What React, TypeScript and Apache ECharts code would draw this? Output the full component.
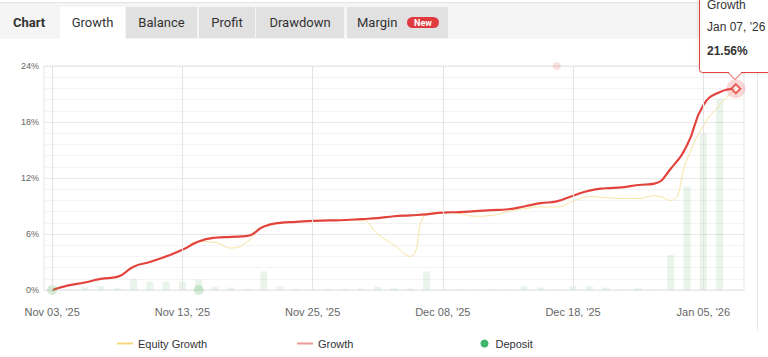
import React, { useEffect, useRef } from 'react';
import * as echarts from 'echarts';

const dates = [
  "Nov 03, '25", "Nov 04, '25", "Nov 05, '25", "Nov 06, '25", "Nov 07, '25", "Nov 10, '25", "Nov 11, '25", "Nov 12, '25",
  "Nov 13, '25", "Nov 14, '25", "Nov 17, '25", "Nov 18, '25", "Nov 19, '25", "Nov 20, '25", "Nov 21, '25", "Nov 24, '25",
  "Nov 25, '25", "Nov 26, '25", "Nov 28, '25", "Dec 01, '25", "Dec 02, '25", "Dec 03, '25", "Dec 04, '25", "Dec 05, '25",
  "Dec 08, '25", "Dec 09, '25", "Dec 10, '25", "Dec 11, '25", "Dec 12, '25", "Dec 15, '25", "Dec 16, '25", "Dec 17, '25",
  "Dec 18, '25", "Dec 19, '25", "Dec 22, '25", "Dec 23, '25", "Dec 24, '25", "Dec 29, '25", "Dec 30, '25", "Jan 02, '26",
  "Jan 05, '26", "Jan 06, '26", "Jan 07, '26",
];

const growth = [
  0, 0.5, 0.8, 1.2, 1.4, 2.5, 3.0, 3.6, 4.3, 5.2, 5.6, 5.7, 5.8, 6.8, 7.2, 7.3, 7.4, 7.45, 7.5, 7.6, 7.7, 7.9,
  8.0, 8.1, 8.3, 8.35, 8.45, 8.55, 8.65, 8.95, 9.3, 9.5, 10.1, 10.65, 10.9, 11.0, 11.25, 11.4, 13.0, 15.5, 19.8,
  21.2, 21.56,
];

const equityGrowth = [
  0, 0.5, 0.8, 1.2, 1.4, 2.5, 3.0, 3.6, 4.3, 5.2, 5.1, 4.5, 5.2, 6.8, 7.2, 7.3, 7.4, 7.45, 7.5, 7.5, 6.0, 4.8,
  3.6, 8.1, 8.3, 8.2, 7.9, 8.0, 8.4, 8.7, 8.9, 8.9, 9.5, 10.0, 9.9, 9.8, 9.8, 10.1, 9.6, 14.0, 17.6, 19.8, 21.56,
];

const activity = [
  0, 0.1, 0.3, 0.4, 0.2, 1.2, 0.9, 0.9, 0.9, 1.1, 0.35, 0.25, 0.1, 2.0, 0.4, 0.1, 0.05, 0.1, 0.1, 0.15, 0.35, 0.2,
  0.15, 2.0, 0.05, 0.1, 0.05, 0.1, 0.05, 0.4, 0.25, 0.05, 0.4, 0.4, 0.25, 0.05, 0.2, 0.05, 3.75, 11.1, 16.8, 20.5, 0.05,
];

const depositDates = ["Nov 03, '25", "Nov 14, '25"];
const depositValues = [0, 0];

const markerDates = ["Dec 17, '25"];
const markerValues = [24];

const gridLineDates = ["Nov 03, '25", "Nov 13, '25", "Nov 25, '25", "Dec 08, '25", "Dec 18, '25", "Jan 05, '26"];

const yMax = 24;
const yStep = 6;

const tabLabels = ['Growth', 'Balance', 'Profit', 'Drawdown', 'Margin'];
const badgeLabel = 'New';
const headerTitle = 'Chart';

const RED = '#e2433c';
const FONT = "'Liberation Sans', Arial, sans-serif";

export default function App() {
  const ref = useRef<HTMLDivElement>(null);

  useEffect(() => {
    if (!ref.current) return;
    const chart = echarts.init(ref.current, undefined, { renderer: 'svg' });

    const tabBoxes = [
      { x: 60, w: 65, active: true },
      { x: 126, w: 71, active: false },
      { x: 199, w: 56, active: false },
      { x: 256, w: 88, active: false },
      { x: 347, w: 101, active: false },
    ];

    const graphics: any[] = [
      { type: 'rect', silent: true, shape: { x: 0, y: 2, width: 768, height: 37 }, style: { fill: '#f5f5f5' }, z: 0 },
      { type: 'line', silent: true, shape: { x1: 0, y1: 2.5, x2: 768, y2: 2.5 }, style: { stroke: '#e4e4e4', lineWidth: 1 } },
      { type: 'text', silent: true, style: { text: headerTitle, x: 13, y: 22, font: 'bold 13px Roboto', fill: '#333', verticalAlign: 'middle' } },
      { type: 'line', silent: true, shape: { x1: 757.5, y1: 39, x2: 757.5, y2: 330 }, style: { stroke: '#e8e8e8', lineWidth: 1 } },
    ];

    tabBoxes.forEach((t, i) => {
      graphics.push({
        type: 'rect', silent: true,
        shape: { x: t.x, y: 7, width: t.w, height: t.active ? 32 : 31 },
        style: { fill: t.active ? '#ffffff' : '#e1e1e1' },
      });
      const isMargin = i === tabLabels.length - 1;
      graphics.push({
        type: 'text', silent: true,
        style: {
          text: tabLabels[i],
          x: isMargin ? 357 : t.x + t.w / 2,
          y: 22,
          font: '13px Roboto',
          fill: '#333',
          align: isMargin ? 'left' : 'center',
          verticalAlign: 'middle',
        },
      });
    });

    graphics.push(
      { type: 'rect', silent: true, shape: { x: 407, y: 17, width: 32, height: 11, r: 5.5 }, style: { fill: '#e0393e' } },
      { type: 'text', silent: true, style: { text: badgeLabel, x: 423, y: 22.5, font: 'bold 9px Roboto', fill: '#fff', align: 'center', verticalAlign: 'middle' } },
    );

    // tooltip overlay
    const lastDate = dates[dates.length - 1];
    const lastVal = growth[growth.length - 1];
    graphics.push(
      {
        type: 'rect', silent: true, z: 100,
        shape: { x: 699.5, y: -6, width: 90, height: 78.5, r: 3 },
        style: { fill: '#fff', stroke: RED, lineWidth: 1, shadowBlur: 4, shadowColor: 'rgba(0,0,0,0.12)' },
      },
      {
        type: 'polygon', silent: true, z: 101,
        shape: { points: [[728, 72.5], [735, 79.5], [742, 72.5]] },
        style: { fill: '#fff', stroke: RED, lineWidth: 1 },
      },
      { type: 'rect', silent: true, z: 102, shape: { x: 729, y: 71.3, width: 12, height: 1.9 }, style: { fill: '#fff' } },
      { type: 'text', silent: true, z: 103, style: { text: 'Growth', x: 707, y: 5, font: `12px ${FONT}`, fill: '#333', verticalAlign: 'middle' } },
      { type: 'text', silent: true, z: 103, style: { text: lastDate, x: 707, y: 27, font: `12px ${FONT}`, fill: '#333', verticalAlign: 'middle' } },
      { type: 'text', silent: true, z: 103, style: { text: lastVal.toFixed(2) + '%', x: 707, y: 51, font: `bold 12px ${FONT}`, fill: '#333', verticalAlign: 'middle' } },
    );

    const lastPoint = [[lastDate, lastVal]];

    const option: any = {
      animation: false,
      textStyle: { fontFamily: FONT },
      grid: { left: 44, right: 24, top: 66, bottom: 67, show: true, borderColor: '#e6e6e6', borderWidth: 1 },
      xAxis: {
        type: 'category',
        data: dates,
        boundaryGap: true,
        axisLine: { show: false },
        axisTick: { show: false },
        axisLabel: { interval: 7, color: '#666', fontSize: 11, margin: 16 },
        splitLine: { show: false },
      },
      yAxis: {
        type: 'value',
        min: 0,
        max: yMax,
        interval: yStep,
        axisLabel: { formatter: '{value}%', color: '#666', fontSize: 9, margin: 5 },
        axisLine: { show: false },
        axisTick: { show: false },
        splitLine: { lineStyle: { color: '#e8e8e8' } },
        minorTick: { show: false, splitNumber: 5 },
        minorSplitLine: { show: true, lineStyle: { color: '#f3f3f3' } },
      },
      legend: [
        {
          left: 117, top: 338, padding: 0, itemWidth: 16, itemHeight: 14, itemGap: 0, selectedMode: false,
          icon: 'path://M0,0H16V2H0Z',
          data: [{ name: 'Equity Growth', itemStyle: { color: '#f6d67e' } }],
          textStyle: { fontSize: 11, color: '#333' },
        },
        {
          left: 297, top: 338, padding: 0, itemWidth: 16, itemHeight: 14, itemGap: 0, selectedMode: false,
          icon: 'path://M0,0H16V2H0Z',
          data: [{ name: 'Growth', itemStyle: { color: '#ee9a96' } }],
          textStyle: { fontSize: 11, color: '#333' },
        },
        {
          left: 480.5, top: 338, padding: 0, itemWidth: 12, itemHeight: 8, itemGap: 0, selectedMode: false,
          icon: 'circle',
          data: [{ name: 'Deposit', itemStyle: { color: '#12a247' } }],
          textStyle: { fontSize: 11, color: '#333' },
        },
      ],
      graphic: graphics,
      series: [
        {
          name: 'Activity',
          type: 'bar',
          data: activity,
          barWidth: 7,
          silent: true,
          z: 1,
          itemStyle: { color: 'rgba(76,175,80,0.12)' },
          markLine: {
            silent: true,
            symbol: 'none',
            label: { show: false },
            lineStyle: { color: '#e4e4e4', type: 'solid', width: 1 },
            data: gridLineDates.map((d) => ({ xAxis: d })),
          },
        },
        {
          name: 'Equity Growth',
          type: 'line',
          data: equityGrowth,
          smooth: true,
          showSymbol: false,
          z: 2,
          lineStyle: { color: '#f7e2a2', width: 1 },
          itemStyle: { color: '#f6d67e' },
        },
        {
          name: 'Growth',
          type: 'line',
          data: growth,
          smooth: true,
          showSymbol: false,
          z: 3,
          lineStyle: { color: RED, width: 2.2 },
          itemStyle: { color: RED },
        },
        {
          name: 'Deposit',
          type: 'scatter',
          data: depositDates.map((d, i) => [d, depositValues[i]]),
          symbolSize: 10,
          z: 4,
          itemStyle: { color: 'rgba(76,175,80,0.3)' },
        },
        {
          name: 'Marker',
          type: 'scatter',
          data: markerDates.map((d, i) => [d, markerValues[i]]),
          symbolSize: 8,
          z: 4,
          itemStyle: { color: 'rgba(226,67,60,0.2)' },
        },
        {
          name: 'Halo',
          type: 'scatter',
          data: lastPoint,
          symbolSize: 19,
          z: 5,
          itemStyle: { color: 'rgba(226,67,60,0.25)' },
        },
        {
          name: 'Focus',
          type: 'scatter',
          data: lastPoint,
          symbol: 'diamond',
          symbolSize: 9,
          z: 6,
          itemStyle: { color: '#fff', borderColor: RED, borderWidth: 2 },
        },
      ],
    };

    chart.setOption(option);
    return () => chart.dispose();
  }, []);

  return (
    <div
      ref={ref}
      style={{ position: 'fixed', left: 0, top: 0, width: 768, height: 357, background: '#fff' }}
    />
  );
}
